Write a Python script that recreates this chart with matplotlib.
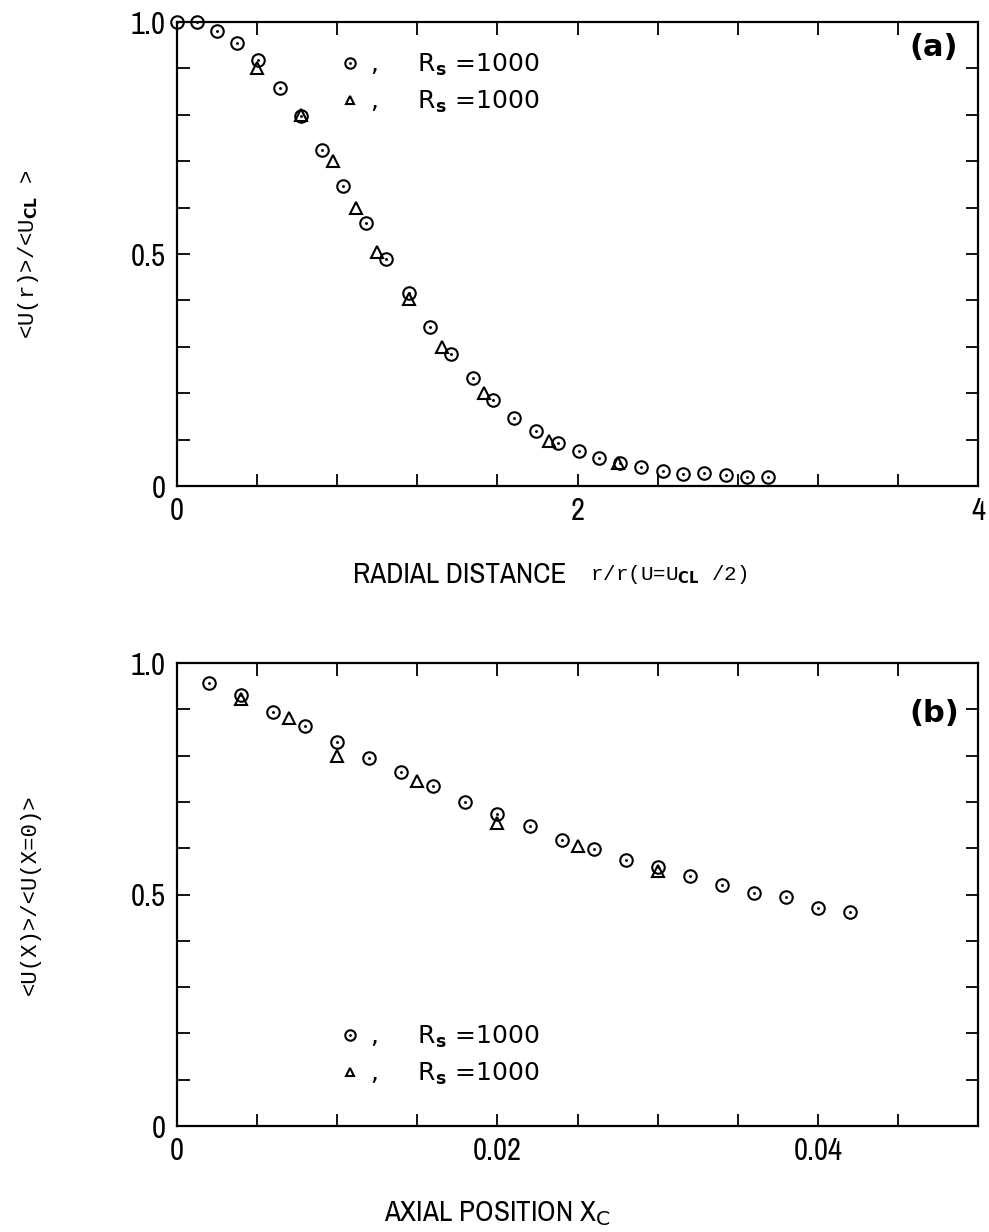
import numpy as np
import matplotlib
matplotlib.use('Agg')
import matplotlib.pyplot as plt
import matplotlib.lines as mlines
from matplotlib import font_manager

# Panel (a): radial velocity profile
r_circ = [0.0, 0.1, 0.2, 0.3, 0.405, 0.515, 0.62, 0.725, 0.83, 0.945, 1.045, 1.16, 1.265,
          1.37, 1.48, 1.58, 1.685, 1.79, 1.9, 2.005, 2.105, 2.21, 2.315, 2.425, 2.525,
          2.63, 2.74, 2.845, 2.95]
u_circ = [1.0, 1.0, 0.98, 0.955, 0.918, 0.857, 0.797, 0.724, 0.647, 0.567, 0.489, 0.416, 0.343,
          0.284, 0.233, 0.185, 0.147, 0.119, 0.092, 0.075, 0.06, 0.05, 0.041, 0.032, 0.026,
          0.028, 0.024, 0.02, 0.019]
r_tri = [0.4, 0.62, 0.78, 0.895, 1.0, 1.16, 1.325, 1.535, 1.855, 2.2]
u_tri = [0.90, 0.80, 0.70, 0.60, 0.505, 0.403, 0.30, 0.20, 0.097, 0.05]

# Panel (b): axial decay of centreline velocity
x_circ = [0.002, 0.004, 0.006, 0.008, 0.010, 0.012, 0.014, 0.016, 0.018, 0.020, 0.022,
          0.024, 0.026, 0.028, 0.030, 0.032, 0.034, 0.036, 0.038, 0.040, 0.042]
ux_circ = [0.958, 0.931, 0.894, 0.865, 0.83, 0.795, 0.765, 0.735, 0.70, 0.675, 0.648,
           0.618, 0.598, 0.575, 0.56, 0.54, 0.52, 0.503, 0.495, 0.472, 0.462]
x_tri = [0.004, 0.007, 0.010, 0.015, 0.020, 0.025, 0.030]
ux_tri = [0.922, 0.881, 0.80, 0.745, 0.655, 0.605, 0.55]

legend_label = ',     R$_{\\mathbf{s}}$ =1000'

# pick a narrow sans for tick labels and axis titles if there is one
narrow = dict(family='DejaVu Sans')
for f in font_manager.fontManager.ttflist:
    if 'Narrow' in f.name or 'Condensed' in f.name:
        narrow = dict(family=f.name)
        break
    if f.name == 'DejaVu Sans' and str(f.stretch) == 'condensed':
        narrow = dict(family='DejaVu Sans', stretch='condensed')
mono = 'Liberation Mono'


def draw_points(ax, xc, yc, xt, yt):
    # open circles with a dot in the middle, open triangles
    ax.plot(xc, yc, 'o', ms=9, mfc='none', mec='black', mew=1.5, clip_on=False, zorder=3)
    ax.plot(xc, yc, '.', ms=2.2, color='black', clip_on=False, zorder=3)
    ax.plot(xt, yt, '^', ms=8, mfc='none', mec='black', mew=1.5, clip_on=False, zorder=3)


def add_legend(ax, anchor):
    circ = mlines.Line2D([], [], marker='o', ls='none', ms=7.5, mfc='none', mec='black', mew=1.5)
    dot = mlines.Line2D([], [], marker='.', ls='none', ms=2, color='black')
    tri = mlines.Line2D([], [], marker='^', ls='none', ms=6, mfc='none', mec='black', mew=1.5)
    ax.legend([(circ, dot), tri], [legend_label, legend_label], loc='upper left',
              bbox_to_anchor=anchor, frameon=False, fontsize=18, handlelength=1.0,
              handletextpad=0.3, borderpad=0, borderaxespad=0, labelspacing=0.4)


def style_axes(ax, xticks, xlabels, yticks, ylabels):
    ax.set_xticks(xticks)
    ax.set_xticklabels(xlabels, fontsize=22, **narrow)
    ax.set_yticks(yticks)
    ax.set_yticklabels(ylabels, fontsize=22, **narrow)
    ax.tick_params(direction='in', length=9, width=1.3, top=True, right=True, pad=8)
    for s in ax.spines.values():
        s.set_linewidth(1.6)


fig = plt.figure(figsize=(9.89, 12.32), dpi=100)

# ---- (a) ----
ax1 = fig.add_axes([0.179, 0.6055, 0.81, 0.3766])
draw_points(ax1, r_circ, u_circ, r_tri, u_tri)
ax1.set_xlim(0, 4)
ax1.set_ylim(0, 1.0)
xt1 = np.arange(0, 4.01, 0.4)
yt1 = np.arange(0, 1.01, 0.1)
style_axes(ax1, xt1, ['0', '', '', '', '', '2', '', '', '', '', '4'],
           yt1, ['0', '', '', '', '', '0.5', '', '', '', '', '1.0'])
add_legend(ax1, (0.2, 0.935))
ax1.text(0.945, 0.945, '(a)', transform=ax1.transAxes, fontsize=22, fontweight='bold',
         ha='center', va='center')
ax1.set_ylabel('<U(r)>/<U$_{\\mathbf{CL}}$ >', family=mono, fontsize=16)
ax1.yaxis.set_label_coords(-0.17, 0.5)
ax1.text(0.22, -0.19, 'RADIAL DISTANCE', transform=ax1.transAxes, fontsize=21,
         ha='left', va='center', **narrow)
ax1.text(0.515, -0.19, 'r/r(U=U$_{\\mathbf{CL}}$ /2)', transform=ax1.transAxes, fontsize=15,
         family=mono, ha='left', va='center')

# ---- (b) ----
ax2 = fig.add_axes([0.179, 0.086, 0.81, 0.3758])
draw_points(ax2, x_circ, ux_circ, x_tri, ux_tri)
ax2.set_xlim(0, 0.05)
ax2.set_ylim(0, 1.0)
xt2 = np.arange(0, 0.0501, 0.005)
style_axes(ax2, xt2, ['0', '', '', '', '0.02', '', '', '', '0.04', '', ''],
           yt1, ['0', '', '', '', '', '0.5', '', '', '', '', '1.0'])
add_legend(ax2, (0.2, 0.22))
ax2.text(0.945, 0.89, '(b)', transform=ax2.transAxes, fontsize=22, fontweight='bold',
         ha='center', va='center')
ax2.set_ylabel('<U(X)>/<U(X=0)>', family=mono, fontsize=16)
ax2.yaxis.set_label_coords(-0.17, 0.5)
ax2.text(0.4, -0.19, 'AXIAL POSITION X$_\\mathsf{C}$', transform=ax2.transAxes, fontsize=21,
         ha='center', va='center', **narrow)

fig.savefig('out.png', dpi=100)
